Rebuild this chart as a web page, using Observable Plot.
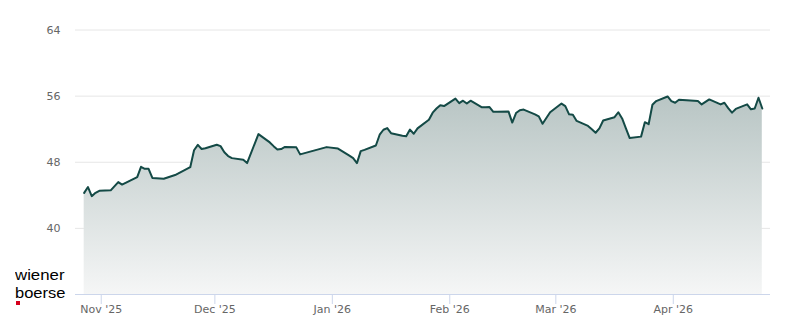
<!DOCTYPE html>
<html><head><meta charset="utf-8">
<script src="https://cdn.jsdelivr.net/npm/d3@7"></script>
<script src="https://cdn.jsdelivr.net/npm/@observablehq/plot@0.6"></script>
<style>
html,body{margin:0;padding:0;background:#fff;}
#wrap{position:relative;width:800px;height:324px;overflow:hidden;}
#logo{position:absolute;left:15px;top:266px;}
</style></head><body>
<div id="wrap"><svg id="logo" width="60" height="42" viewBox="0 0 60 42">
<text x="0" y="14.2" font-family="'Liberation Sans', Arial, sans-serif" font-size="15.4" fill="#000" textLength="49.5" lengthAdjust="spacingAndGlyphs">wiener</text>
<text x="0" y="31.6" font-family="'Liberation Sans', Arial, sans-serif" font-size="15.4" fill="#000" textLength="50.5" lengthAdjust="spacingAndGlyphs">boerse</text>
<rect x="1" y="35" width="4" height="4" fill="#d5001c"></rect>
</svg></div>
<script>
const dates = [
"2025-10-27","2025-10-28","2025-10-29","2025-10-30","2025-10-31",
"2025-11-03","2025-11-05","2025-11-06","2025-11-10","2025-11-11","2025-11-12","2025-11-13","2025-11-14",
"2025-11-17","2025-11-20","2025-11-24","2025-11-25","2025-11-26","2025-11-27","2025-11-28",
"2025-12-01","2025-12-02","2025-12-03","2025-12-04","2025-12-05","2025-12-08","2025-12-09","2025-12-12",
"2025-12-15","2025-12-16","2025-12-17","2025-12-18","2025-12-19","2025-12-22","2025-12-23","2025-12-30",
"2026-01-02","2026-01-05","2026-01-06","2026-01-07","2026-01-08","2026-01-09","2026-01-12","2026-01-13",
"2026-01-14","2026-01-15","2026-01-16","2026-01-19","2026-01-20","2026-01-21","2026-01-22","2026-01-23",
"2026-01-26","2026-01-27","2026-01-28","2026-01-29","2026-01-30","2026-02-02","2026-02-03","2026-02-04",
"2026-02-05","2026-02-06","2026-02-09","2026-02-10","2026-02-11","2026-02-12","2026-02-13","2026-02-16",
"2026-02-17","2026-02-18","2026-02-19","2026-02-20","2026-02-23","2026-02-24","2026-02-25","2026-02-26",
"2026-02-27","2026-03-02","2026-03-03","2026-03-04","2026-03-05","2026-03-06","2026-03-09","2026-03-10",
"2026-03-11","2026-03-12","2026-03-13","2026-03-16","2026-03-17","2026-03-18","2026-03-19","2026-03-20",
"2026-03-23","2026-03-24","2026-03-25","2026-03-26","2026-03-27","2026-03-30","2026-03-31","2026-04-01",
"2026-04-02","2026-04-07","2026-04-08","2026-04-09","2026-04-10","2026-04-13","2026-04-14","2026-04-15",
"2026-04-16","2026-04-17","2026-04-20","2026-04-21","2026-04-22","2026-04-23","2026-04-24"
];
const prices = [
44.3,45.0,43.9,44.3,44.55,
44.6,45.6,45.3,46.2,47.45,47.2,47.2,46.1,
46.0,46.45,47.4,49.45,50.1,49.6,49.7,
50.12,49.95,49.2,48.75,48.5,48.3,47.9,51.4,
50.4,49.95,49.55,49.6,49.85,49.8,48.95,49.83,
49.65,48.8,48.5,47.9,49.35,49.5,50.03,51.33,
51.93,52.13,51.52,51.2,51.15,51.95,51.45,52.1,
53.15,54.0,54.5,54.9,54.8,55.7,55.15,55.45,
55.1,55.45,54.65,54.65,54.67,54.1,54.1,54.15,
52.8,53.95,54.3,54.37,53.8,53.55,52.65,53.35,
54.05,55.1,54.8,53.8,53.75,53.0,52.4,52.0,
51.57,52.1,53.05,53.45,54.05,53.3,52.1,50.92,
51.1,52.85,52.6,54.95,55.4,55.96,55.4,55.2,
55.56,55.4,55.0,55.3,55.6,55.0,55.2,54.55,
54.0,54.45,55.0,54.4,54.5,55.8,54.5
];
const yTicks = [40, 48, 56, 64];
const yMin = 32, yMax = 64;
const monthTicks = ["2025-11-01","2025-12-01","2026-01-01","2026-02-01","2026-03-01","2026-04-01"];
const xStart = "2025-10-25T05:00:00Z", xEnd = "2026-04-26T16:00:00Z";

const data = dates.map((d, i) => ({date: new Date(d + "T12:00:00Z"), price: prices[i]}));
const ticks = monthTicks.map(d => new Date(d + "T00:00:00Z"));
const fmt = d3.utcFormat("%b '%y");

const defs = () => {
  const ns = "http://www.w3.org/2000/svg";
  const g = document.createElementNS(ns, "defs");
  g.innerHTML = '<linearGradient id="areaGrad" x1="0" y1="0" x2="0" y2="1">' +
    '<stop offset="0" stop-color="#b8c5c4"/><stop offset="1" stop-color="#f5f6f6"/></linearGradient>';
  return g;
};

const chart = Plot.plot({
  width: 800, height: 324,
  marginLeft: 75, marginRight: 30, marginTop: 29.5, marginBottom: 30,
  style: {fontFamily: "'DejaVu Sans', sans-serif", fontSize: "11px", color: "#666666", background: "#ffffff"},
  x: {type: "utc", domain: [new Date(xStart), new Date(xEnd)]},
  y: {domain: [yMin, yMax]},
  marks: [
    defs,
    Plot.gridY(yTicks, {stroke: "#e6e6e6", strokeOpacity: 1}),
    Plot.areaY(data, {x: "date", y1: yMin, y2: "price", fill: "url(#areaGrad)"}),
    Plot.ruleY([yMin], {stroke: "#ccd6eb"}),
    Plot.lineY(data, {x: "date", y: "price", stroke: "#144a46", strokeWidth: 2, strokeLinejoin: "round"}),
    Plot.axisY(yTicks, {tickSize: 0, tickPadding: 15, fill: "#666666", label: null}),
    Plot.axisX(ticks, {tickSize: 10, tickPadding: 1, stroke: "#ccd6eb", fill: "#666666", tickFormat: fmt, label: null})
  ]
});
document.getElementById("wrap").prepend(chart);
</script>
</body></html>
